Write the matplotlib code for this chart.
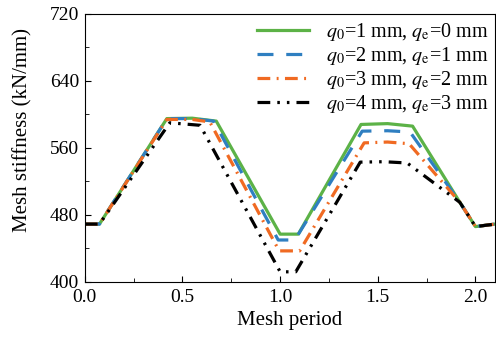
import matplotlib
matplotlib.use('Agg')
import matplotlib.pyplot as plt

plt.rcParams['font.family'] = ['Liberation Serif', 'DejaVu Serif']
plt.rcParams['mathtext.fontset'] = 'stix'

# --- Data ---
green_x = [0, 0.075, 0.42, 0.55, 0.673, 1.0, 1.093, 1.414, 1.55, 1.678, 1.92, 2.0, 2.1]
green_y = [469, 469, 595, 595.5, 592, 457, 457, 588, 589, 586, 495, 466, 469]

blue_x = [0, 0.075, 0.42, 0.55, 0.66, 0.99, 1.075, 1.42, 1.55, 1.665, 1.92, 2.0, 2.1]
blue_y = [469, 469, 595, 595, 592, 450, 450, 580, 580.5, 579, 495, 466, 469]

orange_x = [0, 0.075, 0.42, 0.55, 0.64, 0.995, 1.10, 1.43, 1.55, 1.66, 1.92, 2.0, 2.1]
orange_y = [469, 469, 594, 594, 591, 437, 437, 566, 567, 565, 495, 466, 469]

black_x = [0, 0.075, 0.435, 0.59, 1.0, 1.08, 1.41, 1.53, 1.65, 1.92, 2.0, 2.1]
black_y = [469, 469, 590, 587, 412, 412, 543, 543.5, 542, 495, 466, 469]

labels = [r'$q_0$=1 mm, $q_{\rm e}$=0 mm',
          r'$q_0$=2 mm, $q_{\rm e}$=1 mm',
          r'$q_0$=3 mm, $q_{\rm e}$=2 mm',
          r'$q_0$=4 mm, $q_{\rm e}$=3 mm']

fig = plt.figure(figsize=(4.96, 3.40), dpi=100)
ax = fig.add_axes([0.171, 0.171, 0.827, 0.788])

ax.plot(green_x, green_y, color='#5cb247', lw=2.3, label=labels[0])
ax.plot(blue_x, blue_y, color='#2f7fc1', lw=2.3, dashes=(5, 4), label=labels[1])
ax.plot(orange_x, orange_y, color='#f06a22', lw=2.3, dashes=(4, 2, 0.6, 2), label=labels[2])
ax.plot(black_x, black_y, color='black', lw=2.3, dashes=(4, 2.2, 0.8, 2.2, 0.8, 2.2), label=labels[3])

ax.set_xlim(0, 2.1)
ax.set_ylim(400, 720)
ax.set_xticks([0, 0.5, 1.0, 1.5, 2.0])
ax.set_xticks([0.25, 0.75, 1.25, 1.75], minor=True)
ax.set_yticks([400, 480, 560, 640, 720])
ax.set_yticks([440, 520, 600, 680], minor=True)
ax.set_xticklabels(['0.0', '0.5', '1.0', '1.5', '2.0'])
ax.tick_params(direction='in', which='both', labelsize=14, top=False, right=False)
ax.tick_params(which='major', length=4)
ax.tick_params(which='minor', length=3)
ax.tick_params(axis='x', which='major', pad=5)
ax.tick_params(axis='y', which='major', pad=4)

ax.set_xlabel('Mesh period', fontsize=15, labelpad=4)
ax.set_ylabel('Mesh stiffness (kN/mm)', fontsize=15)
ax.yaxis.set_label_coords(-0.127, 0.565)

ax.legend(loc='upper right', frameon=False, fontsize=14.5, handlelength=2.6,
          labelspacing=0.1, borderaxespad=0.05, borderpad=0.3, handletextpad=0.8)

fig.savefig('out.png', dpi=100)
